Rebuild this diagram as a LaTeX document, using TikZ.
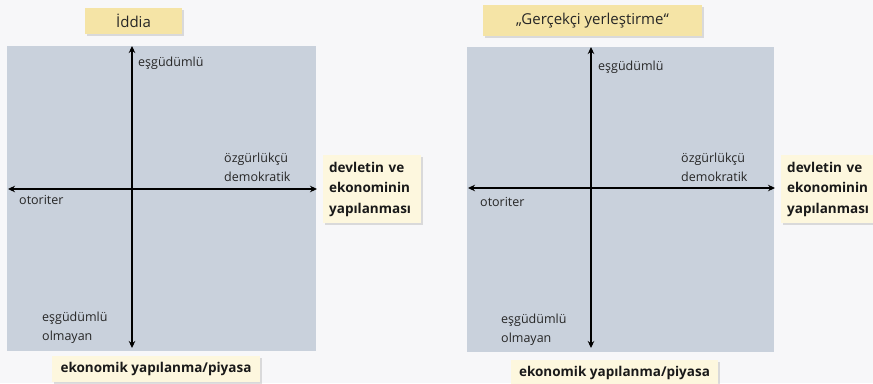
\documentclass[tikz,border=0pt]{standalone}
\usepackage{fontspec}
\setmainfont{Open Sans}
\usetikzlibrary{arrows.meta,shadows}

\definecolor{pagebg}{HTML}{F7F7F9}
\definecolor{panelgray}{HTML}{C9D1DC}
\definecolor{titleyellow}{HTML}{F5E4A6}
\definecolor{labelcream}{HTML}{FDF7DE}

\begin{document}
\begin{tikzpicture}[x=1pt, y=-1pt,
		axis/.style={{Stealth[length=7pt,width=6.5pt]}-{Stealth[length=7pt,width=6.5pt]}, line width=1.1pt},
		pole/.style={anchor=west, inner sep=0pt, align=left, text=black!85,
			font=\fontsize{12.5}{19}\selectfont},
		boxshadow/.style={drop shadow={shadow xshift=1.5pt, shadow yshift=-1.5pt, opacity=0.25, fill=black!50}},
		titlebox/.style={fill=titleyellow, boxshadow, inner sep=0pt, text=black!85,
			font=\fontsize{15}{17}\selectfont},
		labelbox/.style={fill=labelcream, boxshadow, inner sep=0pt, text=black!90,
			font=\bfseries\fontsize{13.5}{20.5}\selectfont}]
		\fill[pagebg] (0,0) rectangle (873,383);
		\useasboundingbox (0,0) rectangle (873,383);

		% left panel
		\fill[panelgray] (7,46) rectangle (316,351);
		\coordinate (lTop) at (132,46);
		\coordinate (lBottom) at (132,348);
		\coordinate (lLeft) at (8,189);
		\coordinate (lRight) at (317,189);
		\draw[axis] (lBottom) -- (lTop);
		\draw[axis] (lLeft) -- (lRight);

		\node[titlebox, minimum width=97pt, minimum height=26pt] (lTitle) at (133.5,21) {İddia};
		\node[pole] (lUp) at (138,63) {eşgüdümlü};
		\node[pole] (lFree) at (224,167.5) {özgürlükçü\\demokratik};
		\node[pole] (lAuth) at (19,200) {otoriter};
		\node[pole] (lDown) at (42,327.5) {eşgüdümlü\\olmayan};
		\node[labelbox, anchor=north west, minimum width=98pt, minimum height=68pt,
			text width=86pt, align=left] (lState) at (323,155) {devletin ve\\ekonominin\\yapılanması};
		\node[labelbox, minimum width=208pt, minimum height=26pt] (lMarket) at (156,369)
			{ekonomik yapılanma/piyasa};

		% right panel
		\fill[panelgray] (467,47) rectangle (774,352);
		\coordinate (rTop) at (591,47);
		\coordinate (rBottom) at (591,348);
		\coordinate (rLeft) at (468,188);
		\coordinate (rRight) at (775,188);
		\draw[axis] (rBottom) -- (rTop);
		\draw[axis] (rLeft) -- (rRight);

		\node[titlebox, minimum width=219pt, minimum height=31pt] (rTitle) at (592.5,20.5)
			{„Gerçekçi yerleştirme“};
		\node[pole] (rUp) at (598,67) {eşgüdümlü};
		\node[pole] (rFree) at (681,167) {özgürlükçü\\demokratik};
		\node[pole] (rAuth) at (480,202) {otoriter};
		\node[pole] (rDown) at (501,330) {eşgüdümlü\\olmayan};
		\node[labelbox, anchor=north west, minimum width=98pt, minimum height=68pt,
			text width=86pt, align=left] (rState) at (781,155) {devletin ve\\ekonominin\\yapılanması};
		\node[labelbox, minimum width=207pt, minimum height=26pt] (rMarket) at (614.5,373)
			{ekonomik yapılanma/piyasa};
	\end{tikzpicture}
\end{document}
